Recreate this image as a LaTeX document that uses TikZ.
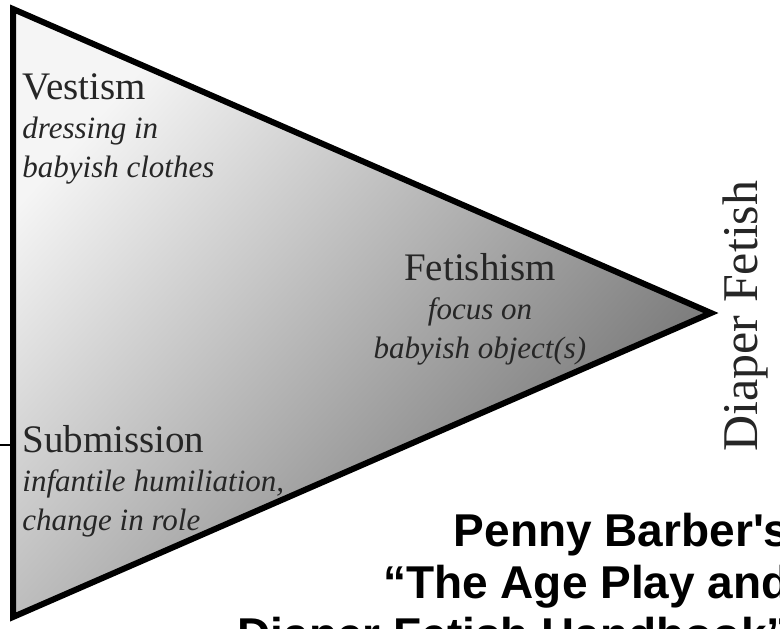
\documentclass[tikz,border=0pt]{standalone}
\usepackage{fontspec}
\setmainfont{Liberation Serif}
\newfontfamily\titlefont[Ligatures=TeXOff]{Liberation Sans}

\tikzset{
    headtext/.style={anchor=base west,align=left,font=\fontsize{15.5}{19.3}\selectfont\itshape},
}
\newcommand{\headline}[1]{{\fontsize{19.5}{19.3}\selectfont\upshape #1}}

\begin{document}
\begin{tikzpicture}[x=0.5pt,y=0.5pt]

    \useasboundingbox (0,0) rectangle (780,-628);
    \clip (0,0) rectangle (780,-628);

    % corners of the triangle
    \coordinate (tl) at (13,-9);
    \coordinate (bl) at (13,-617);
    \coordinate (tip) at (711,-313);
    \coordinate (mark) at (0,-445);
    \coordinate (side) at (13,-445);

    \draw[line width=3pt, top color=black!4, bottom color=black!57, shading angle=48] (tl) -- (tip) -- (bl) -- cycle;
    \draw[line width=1pt] (mark) -- (side); % small tick on the left

    % the base of a multi-line node sits on its last line
    \begin{scope}[every node/.style={inner sep=0pt,text=black!85}]
        \node[headtext] (vest) at (22,-177) {\headline{Vestism}\\dressing in\\babyish clothes};
        \node[headtext] (subm) at (22,-530) {\headline{Submission}\\infantile humiliation,\\change in role};
        \node[headtext,anchor=base,align=center] (fetish) at (480,-358) {\headline{Fetishism}\\focus on\\babyish object(s)};
        \node[anchor=base,rotate=90,font=\fontsize{25}{25}\selectfont] (diaper) at (757,-316) {Diaper Fetish};
    \end{scope}

    % the book title, cut off at the edge
    \node[anchor=base east,align=right,inner sep=0pt,font=\titlefont\bfseries\fontsize{23}{26}\selectfont] (title) at (790,-650) {Penny Barber's\\“The Age Play and\\Diaper Fetish Handbook”};

\end{tikzpicture}
\end{document}
